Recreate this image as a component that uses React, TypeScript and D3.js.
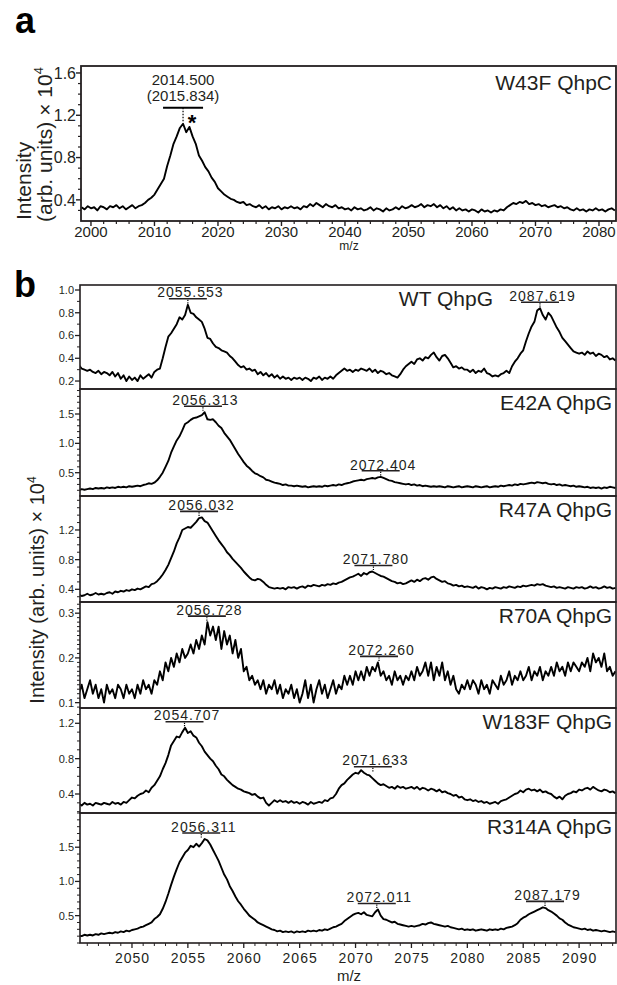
import React from 'react'
import * as d3 from 'd3'

// ---- panel a: W43F QhpC, sampled every 0.5 m/z from 1998.5 ----
const aStart = 1998.5
const aStep = 0.5
const aValues = [
  0.33, 0.31, 0.34, 0.32, 0.33, 0.30, 0.34, 0.33, 0.31, 0.34,
  0.33, 0.35, 0.32, 0.34, 0.31, 0.33, 0.35, 0.32, 0.34, 0.35,
  0.37, 0.40, 0.42, 0.45, 0.50, 0.55, 0.60, 0.72, 0.82, 0.93,
  1.00, 1.08, 1.12, 1.04, 1.09, 1.00, 0.93, 0.82, 0.77, 0.71,
  0.67, 0.61, 0.57, 0.51, 0.48, 0.45, 0.43, 0.41, 0.40, 0.38,
  0.37, 0.38, 0.35, 0.36, 0.34, 0.33, 0.35, 0.32, 0.34, 0.31,
  0.33, 0.32, 0.34, 0.31, 0.33, 0.32, 0.34, 0.32, 0.33, 0.31,
  0.34, 0.33, 0.36, 0.34, 0.37, 0.35, 0.33, 0.36, 0.34, 0.33,
  0.35, 0.32, 0.33, 0.31, 0.32, 0.30, 0.33, 0.31, 0.32, 0.30,
  0.31, 0.33, 0.30, 0.32, 0.31, 0.29, 0.32, 0.30, 0.31, 0.33,
  0.31, 0.34, 0.32, 0.33, 0.35, 0.33, 0.34, 0.36, 0.33, 0.35,
  0.34, 0.36, 0.33, 0.35, 0.32, 0.34, 0.31, 0.33, 0.30, 0.32,
  0.30, 0.31, 0.29, 0.31, 0.30, 0.28, 0.31, 0.29, 0.30, 0.28,
  0.30, 0.29, 0.31, 0.30, 0.33, 0.35, 0.37, 0.36, 0.38, 0.37,
  0.39, 0.36, 0.37, 0.35, 0.36, 0.34, 0.35, 0.33, 0.34, 0.35,
  0.33, 0.34, 0.32, 0.33, 0.31, 0.30, 0.32, 0.30, 0.31, 0.29,
  0.31, 0.30, 0.32, 0.30, 0.31, 0.29, 0.31, 0.32, 0.30
]
const aPeak = { at: 2014.5, label: '2014.500', sub: '(2015.834)' }
const aXTicks = [2000, 2010, 2020, 2030, 2040, 2050, 2060, 2070, 2080]
const aYTicks = [0.4, 0.8, 1.2, 1.6]

// ---- panel b: six QhpG variants, sampled every 0.25 m/z from 2045.25 ----
const bStart = 2045.25
const bStep = 0.25

const wtValues = [
  0.34, 0.31, 0.30, 0.29, 0.30, 0.28, 0.27, 0.29, 0.26, 0.28, 0.27, 0.25, 0.28, 0.24, 0.27, 0.22, 0.25, 0.20, 0.24, 0.21,
  0.23, 0.20, 0.25, 0.22, 0.24, 0.26, 0.23, 0.28, 0.30, 0.31, 0.40, 0.50, 0.59, 0.62, 0.66, 0.70, 0.76, 0.74, 0.78, 0.87,
  0.80, 0.79, 0.76, 0.74, 0.72, 0.66, 0.58, 0.57, 0.53, 0.50, 0.49, 0.47, 0.46, 0.45, 0.42, 0.40, 0.37, 0.34, 0.32, 0.33,
  0.30, 0.31, 0.29, 0.30, 0.26, 0.28, 0.25, 0.27, 0.24, 0.26, 0.23, 0.25, 0.22, 0.24, 0.22, 0.23, 0.21, 0.23, 0.22, 0.23,
  0.21, 0.23, 0.22, 0.20, 0.23, 0.22, 0.24, 0.21, 0.23, 0.22, 0.24, 0.22, 0.25, 0.27, 0.29, 0.31, 0.29, 0.30, 0.28, 0.30,
  0.29, 0.31, 0.30, 0.29, 0.31, 0.28, 0.30, 0.27, 0.29, 0.28, 0.26, 0.27, 0.25, 0.24, 0.23, 0.26, 0.30, 0.33, 0.35, 0.37,
  0.35, 0.39, 0.40, 0.38, 0.41, 0.40, 0.43, 0.45, 0.41, 0.38, 0.42, 0.43, 0.40, 0.36, 0.32, 0.33, 0.31, 0.32, 0.30, 0.30,
  0.28, 0.30, 0.27, 0.29, 0.28, 0.31, 0.27, 0.26, 0.24, 0.25, 0.24, 0.26, 0.27, 0.29, 0.27, 0.33, 0.37, 0.40, 0.44, 0.47,
  0.55, 0.62, 0.68, 0.72, 0.82, 0.84, 0.78, 0.74, 0.80, 0.77, 0.72, 0.67, 0.63, 0.58, 0.55, 0.52, 0.49, 0.46, 0.45, 0.44,
  0.45, 0.43, 0.46, 0.44, 0.45, 0.42, 0.44, 0.43, 0.41, 0.42, 0.39, 0.40, 0.38
]
const e42aValues = [
  0.20, 0.22, 0.21, 0.22, 0.23, 0.22, 0.24, 0.23, 0.24, 0.23, 0.25, 0.24, 0.25, 0.24, 0.26, 0.25, 0.26, 0.25, 0.27, 0.26,
  0.27, 0.28, 0.27, 0.29, 0.30, 0.32, 0.31, 0.33, 0.37, 0.43, 0.50, 0.60, 0.70, 0.84, 0.95, 1.05, 1.12, 1.22, 1.33, 1.36,
  1.40, 1.43, 1.44, 1.46, 1.48, 1.53, 1.41, 1.40, 1.41, 1.36, 1.30, 1.26, 1.18, 1.12, 1.06, 0.98, 0.90, 0.82, 0.75, 0.68,
  0.62, 0.58, 0.53, 0.49, 0.47, 0.44, 0.42, 0.38, 0.37, 0.35, 0.33, 0.32, 0.31, 0.29, 0.30, 0.28, 0.28, 0.27, 0.28, 0.27,
  0.26, 0.27, 0.25, 0.26, 0.27, 0.26, 0.27, 0.26, 0.28, 0.27, 0.28, 0.29, 0.28, 0.30, 0.29, 0.31, 0.32, 0.33, 0.35, 0.36,
  0.37, 0.38, 0.37, 0.39, 0.40, 0.41, 0.40, 0.42, 0.43, 0.41, 0.39, 0.37, 0.36, 0.34, 0.33, 0.32, 0.31, 0.30, 0.31, 0.29,
  0.30, 0.28, 0.29, 0.27, 0.28, 0.27, 0.26, 0.27, 0.26, 0.27, 0.26, 0.25, 0.27, 0.26, 0.25, 0.26, 0.27, 0.25, 0.26, 0.27,
  0.26, 0.25, 0.27, 0.26, 0.25, 0.26, 0.27, 0.25, 0.26, 0.27, 0.26, 0.28, 0.27, 0.28, 0.29, 0.28, 0.30, 0.29, 0.31, 0.30,
  0.31, 0.32, 0.33, 0.32, 0.34, 0.33, 0.32, 0.33, 0.31, 0.30, 0.31, 0.29, 0.30, 0.28, 0.29, 0.28, 0.27, 0.28, 0.26, 0.27,
  0.26, 0.25, 0.26, 0.24, 0.25, 0.24, 0.25, 0.23, 0.25, 0.24, 0.26, 0.25, 0.24
]
const r47aValues = [
  0.33, 0.31, 0.32, 0.34, 0.32, 0.33, 0.35, 0.33, 0.34, 0.33, 0.35, 0.36, 0.34, 0.37, 0.36, 0.38, 0.37, 0.39, 0.38, 0.40,
  0.39, 0.41, 0.40, 0.42, 0.44, 0.43, 0.47, 0.48, 0.51, 0.55, 0.60, 0.66, 0.73, 0.82, 0.91, 1.02, 1.10, 1.20, 1.22, 1.24,
  1.23, 1.27, 1.31, 1.36, 1.37, 1.32, 1.30, 1.24, 1.18, 1.12, 1.06, 1.01, 0.96, 0.90, 0.86, 0.81, 0.77, 0.73, 0.69, 0.64,
  0.60, 0.56, 0.53, 0.52, 0.54, 0.53, 0.50, 0.46, 0.43, 0.42, 0.41, 0.42, 0.41, 0.42, 0.40, 0.43, 0.42, 0.43, 0.41, 0.43,
  0.44, 0.42, 0.45, 0.44, 0.46, 0.45, 0.44, 0.46, 0.45, 0.47, 0.46, 0.48, 0.47, 0.49, 0.50, 0.52, 0.54, 0.56, 0.57, 0.59,
  0.61, 0.58, 0.62, 0.60, 0.63, 0.64, 0.62, 0.60, 0.58, 0.57, 0.55, 0.53, 0.51, 0.50, 0.48, 0.49, 0.47, 0.48, 0.50, 0.52,
  0.50, 0.53, 0.51, 0.54, 0.55, 0.53, 0.56, 0.57, 0.54, 0.52, 0.50, 0.51, 0.48, 0.47, 0.45, 0.46, 0.44, 0.45, 0.43, 0.44,
  0.43, 0.42, 0.44, 0.41, 0.43, 0.42, 0.40, 0.42, 0.41, 0.43, 0.42, 0.41, 0.43, 0.42, 0.44, 0.43, 0.42, 0.44, 0.43, 0.45,
  0.44, 0.45, 0.46, 0.45, 0.47, 0.46, 0.47, 0.45, 0.44, 0.43, 0.44, 0.42, 0.43, 0.42, 0.41, 0.43, 0.42, 0.41, 0.43, 0.42,
  0.43, 0.41, 0.42, 0.44, 0.42, 0.43, 0.41, 0.42, 0.44, 0.42, 0.43, 0.41, 0.42
]
const r70aValues = [
  0.12, 0.14, 0.11, 0.13, 0.15, 0.12, 0.14, 0.11, 0.13, 0.10, 0.14, 0.12, 0.13, 0.11, 0.14, 0.13, 0.11, 0.14, 0.12, 0.13,
  0.11, 0.14, 0.12, 0.15, 0.13, 0.14, 0.12, 0.15, 0.14, 0.17, 0.15, 0.19, 0.17, 0.20, 0.18, 0.21, 0.19, 0.22, 0.20, 0.21,
  0.23, 0.21, 0.24, 0.22, 0.25, 0.23, 0.28, 0.25, 0.27, 0.24, 0.27, 0.22, 0.26, 0.23, 0.25, 0.21, 0.24, 0.20, 0.22, 0.17,
  0.18, 0.15, 0.16, 0.14, 0.15, 0.13, 0.15, 0.12, 0.14, 0.13, 0.15, 0.12, 0.14, 0.11, 0.13, 0.12, 0.14, 0.11, 0.13, 0.10,
  0.12, 0.15, 0.11, 0.14, 0.10, 0.13, 0.15, 0.12, 0.14, 0.11, 0.13, 0.15, 0.12, 0.14, 0.13, 0.16, 0.14, 0.16, 0.14, 0.17,
  0.15, 0.17, 0.15, 0.18, 0.16, 0.18, 0.17, 0.19, 0.16, 0.17, 0.15, 0.16, 0.14, 0.17, 0.15, 0.16, 0.14, 0.16, 0.15, 0.17,
  0.15, 0.18, 0.16, 0.17, 0.19, 0.16, 0.19, 0.15, 0.18, 0.16, 0.19, 0.15, 0.17, 0.14, 0.16, 0.13, 0.12, 0.14, 0.13, 0.15,
  0.13, 0.15, 0.14, 0.12, 0.15, 0.13, 0.14, 0.12, 0.15, 0.14, 0.13, 0.16, 0.14, 0.15, 0.17, 0.14, 0.16, 0.15, 0.17, 0.15,
  0.16, 0.18, 0.15, 0.17, 0.16, 0.18, 0.15, 0.17, 0.16, 0.18, 0.16, 0.19, 0.17, 0.18, 0.16, 0.19, 0.17, 0.19, 0.18, 0.17,
  0.19, 0.18, 0.20, 0.17, 0.21, 0.19, 0.20, 0.18, 0.21, 0.17, 0.18, 0.16, 0.17
]
const w183fValues = [
  0.29, 0.27, 0.30, 0.28, 0.29, 0.27, 0.30, 0.29, 0.28, 0.30, 0.29, 0.28, 0.31, 0.29, 0.30, 0.28, 0.31, 0.30, 0.33, 0.36,
  0.35, 0.38, 0.40, 0.41, 0.44, 0.42, 0.47, 0.50, 0.55, 0.60, 0.68, 0.75, 0.84, 0.95, 1.00, 1.05, 1.04, 1.10, 1.15, 1.09,
  1.11, 1.06, 1.04, 0.98, 0.94, 0.88, 0.84, 0.80, 0.77, 0.72, 0.68, 0.62, 0.60, 0.56, 0.53, 0.50, 0.48, 0.46, 0.45, 0.43,
  0.42, 0.41, 0.39, 0.40, 0.37, 0.35, 0.36, 0.30, 0.27, 0.30, 0.33, 0.31, 0.33, 0.31, 0.32, 0.30, 0.32, 0.30, 0.31, 0.29,
  0.31, 0.30, 0.28, 0.31, 0.29, 0.30, 0.31, 0.30, 0.33, 0.32, 0.35, 0.36, 0.40, 0.46, 0.50, 0.52, 0.56, 0.59, 0.62, 0.64,
  0.63, 0.67, 0.64, 0.62, 0.61, 0.58, 0.55, 0.52, 0.50, 0.51, 0.49, 0.47, 0.48, 0.46, 0.49, 0.47, 0.48, 0.46, 0.47, 0.48,
  0.46, 0.48, 0.45, 0.47, 0.46, 0.44, 0.46, 0.45, 0.43, 0.45, 0.42, 0.43, 0.41, 0.40, 0.38, 0.39, 0.36, 0.37, 0.34, 0.33,
  0.34, 0.32, 0.33, 0.31, 0.32, 0.30, 0.31, 0.29, 0.30, 0.31, 0.29, 0.32, 0.33, 0.34, 0.36, 0.38, 0.40, 0.41, 0.44, 0.42,
  0.45, 0.46, 0.44, 0.45, 0.43, 0.45, 0.42, 0.43, 0.41, 0.40, 0.37, 0.35, 0.37, 0.34, 0.38, 0.40, 0.41, 0.43, 0.42, 0.45,
  0.44, 0.46, 0.47, 0.45, 0.48, 0.46, 0.44, 0.43, 0.45, 0.44, 0.42, 0.43, 0.41
]
const r314aValues = [
  0.21, 0.20, 0.22, 0.21, 0.22, 0.21, 0.23, 0.22, 0.24, 0.23, 0.24, 0.25, 0.24, 0.26, 0.25, 0.27, 0.26, 0.28, 0.27, 0.29,
  0.30, 0.31, 0.33, 0.34, 0.36, 0.38, 0.40, 0.45, 0.48, 0.52, 0.60, 0.70, 0.82, 0.95, 1.07, 1.18, 1.28, 1.35, 1.42, 1.46,
  1.52, 1.50, 1.55, 1.51, 1.56, 1.62, 1.60, 1.54, 1.46, 1.38, 1.30, 1.20, 1.10, 1.03, 0.93, 0.86, 0.78, 0.71, 0.66, 0.60,
  0.55, 0.50, 0.47, 0.44, 0.40, 0.38, 0.36, 0.34, 0.32, 0.30, 0.29, 0.27, 0.28, 0.26, 0.27, 0.26, 0.27, 0.25, 0.27, 0.26,
  0.27, 0.26, 0.28, 0.27, 0.28, 0.27, 0.29, 0.28, 0.30, 0.29, 0.31, 0.33, 0.34, 0.36, 0.38, 0.42, 0.45, 0.48, 0.51, 0.53,
  0.54, 0.52, 0.55, 0.51, 0.50, 0.49, 0.55, 0.59, 0.50, 0.45, 0.44, 0.42, 0.40, 0.41, 0.38, 0.37, 0.36, 0.35, 0.34, 0.35,
  0.34, 0.35, 0.36, 0.38, 0.37, 0.39, 0.40, 0.38, 0.37, 0.36, 0.35, 0.34, 0.35, 0.33, 0.32, 0.31, 0.30, 0.31, 0.29, 0.30,
  0.29, 0.30, 0.28, 0.29, 0.30, 0.29, 0.28, 0.30, 0.29, 0.30, 0.29, 0.31, 0.30, 0.32, 0.33, 0.34, 0.36, 0.39, 0.44, 0.47,
  0.49, 0.52, 0.54, 0.56, 0.58, 0.60, 0.62, 0.61, 0.58, 0.56, 0.53, 0.50, 0.46, 0.44, 0.40, 0.37, 0.35, 0.33, 0.32, 0.31,
  0.30, 0.31, 0.29, 0.30, 0.28, 0.29, 0.28, 0.27, 0.28, 0.27, 0.26, 0.27, 0.26
]

const bNames = ['WT QhpG', 'E42A QhpG', 'R47A QhpG', 'R70A QhpG', 'W183F QhpG', 'R314A QhpG']
const bSeries = [wtValues, e42aValues, r47aValues, r70aValues, w183fValues, r314aValues]
const bDomains = [[0.13, 1.044], [0.103, 1.926], [0.229, 1.658], [0.088, 0.325], [0.185, 1.373], [0.1, 2.0]]
const bMajorTicks = [
  [0.2, 0.4, 0.6, 0.8, 1.0],
  [0.5, 1.0, 1.5],
  [0.4, 0.8, 1.2],
  [0.1, 0.2, 0.3],
  [0.4, 0.8, 1.2],
  [0.5, 1.0, 1.5]
]
const bMinorSteps = [0.1, 0.1, 0.1, 0.01, 0.1, 0.1]
const bPeaks = [
  [{ at: 2055.0, label: '2055.553' }, { at: 2086.5, label: '2087.619' }],
  [{ at: 2056.35, label: '2056.313' }, { at: 2072.25, label: '2072.404' }],
  [{ at: 2056.0, label: '2056.032' }, { at: 2071.6, label: '2071.780' }],
  [{ at: 2056.7, label: '2056.728' }, { at: 2072.1, label: '2072.260' }],
  [{ at: 2054.7, label: '2054.707' }, { at: 2071.55, label: '2071.633' }],
  [{ at: 2056.2, label: '2056.311' }, { at: 2071.9, label: '2072.011' }, { at: 2086.95, label: '2087.179' }]
]
const bXTicks = [2050, 2055, 2060, 2065, 2070, 2075, 2080, 2085, 2090]

// ---- layout ----
const W = 617
const H = 985
const FONT = 'Liberation Sans, Arial, Helvetica, sans-serif'
const INK = '#231f20'
const aBox = { left: 81, right: 616, top: 66, bottom: 221 }
const bLeft = 80
const bRight = 616
const bEdges = [285, 389, 496, 602, 708, 813, 943]
const bLabelRight = [493, 612, 612, 612, 612, 612]

function steps (lo: number, hi: number, step: number) {
  const out: number[] = []
  for (let i = Math.ceil(lo / step - 1e-6); i * step <= hi + 1e-9; i++) {
    out.push(+(i * step).toFixed(4))
  }
  return out
}

function peakValue (values: number[], start: number, step: number, at: number) {
  let best = 0
  values.forEach((v, i) => {
    const mz = start + i * step
    if (Math.abs(mz - at) <= 1 && v > best) best = v
  })
  return best
}

function PanelA () {
  const x = d3.scaleLinear().domain([1998.43, 2082.68]).range([aBox.left, aBox.right])
  const y = d3.scaleLinear().domain([0.2, 1.666]).range([aBox.bottom, aBox.top])
  const line = d3.line<number>()
    .x((d, i) => x(aStart + i * aStep))
    .y(d => y(d))
  const minorX = steps(1999, 2082.6, 2).filter(v => v % 10 !== 0)
  const minorY = steps(0.21, 1.66, 0.1).filter(v => !aYTicks.some(t => Math.abs(t - v) < 1e-6))
  const px = x(aPeak.at)
  const barY = y(peakValue(aValues, aStart, aStep, aPeak.at)) - 16

  return (
    <g>
      <defs>
        <clipPath id='clip-a'>
          <rect x={aBox.left} y={aBox.top} width={aBox.right - aBox.left} height={aBox.bottom - aBox.top} />
        </clipPath>
      </defs>
      <path d={line(aValues) || ''} fill='none' stroke='#000' strokeWidth={1.9} strokeLinejoin='round' clipPath='url(#clip-a)' />
      <rect x={aBox.left} y={aBox.top} width={aBox.right - aBox.left} height={aBox.bottom - aBox.top}
        fill='none' stroke={INK} strokeWidth={1.8} />
      {aXTicks.map(t => (
        <g key={'ax' + t}>
          <line x1={x(t)} x2={x(t)} y1={aBox.bottom} y2={aBox.bottom + 5} stroke={INK} strokeWidth={1.4} />
          <text x={x(t)} y={aBox.bottom + 16} textAnchor='middle' fontSize={15} fill={INK}>{t}</text>
        </g>
      ))}
      {minorX.map(t => (
        <line key={'amx' + t} x1={x(t)} x2={x(t)} y1={aBox.bottom} y2={aBox.bottom + 3} stroke={INK} strokeWidth={1.2} />
      ))}
      {aYTicks.map(t => (
        <g key={'ay' + t}>
          <line x1={aBox.left - 5} x2={aBox.left} y1={y(t)} y2={y(t)} stroke={INK} strokeWidth={1.4} />
          <text x={aBox.left - 5} y={y(t)} dy='0.36em' textAnchor='end' fontSize={16} fill={INK}>{t.toFixed(1)}</text>
        </g>
      ))}
      {minorY.map(t => (
        <line key={'amy' + t} x1={aBox.left - 3} x2={aBox.left} y1={y(t)} y2={y(t)} stroke={INK} strokeWidth={1.2} />
      ))}
      <text x={349} y={250} textAnchor='middle' fontSize={12} fill={INK}>m/z</text>
      <text x={612} y={90} textAnchor='end' fontSize={21} fill={INK}>W43F QhpC</text>

      {/* peak annotation */}
      <text x={px} y={barY - 23} textAnchor='middle' fontSize={15} fill={INK}>{aPeak.label}</text>
      <text x={px} y={barY - 7} textAnchor='middle' fontSize={15} fill={INK}>{aPeak.sub}</text>
      <line x1={px - 20} x2={px + 20} y1={barY} y2={barY} stroke='#000' strokeWidth={1.8} />
      <line x1={px} x2={px} y1={barY} y2={y(peakValue(aValues, aStart, aStep, aPeak.at)) - 1}
        stroke='#000' strokeWidth={1.2} strokeDasharray='1.5,1.5' />
      <text x={px + 9} y={barY + 22} textAnchor='middle' fontSize={22} fontWeight='bold' fill='#000'>*</text>

      <g transform={`translate(31,${aBox.bottom - 1}) rotate(-90)`}>
        <text fontSize={21} fill={INK}>Intensity</text>
      </g>
      <g transform={`translate(52,${aBox.bottom + 1}) rotate(-90)`}>
        <text fontSize={21} fill={INK}>
          (arb. units) × 10<tspan fontSize={13} dy={-9}>4</tspan>
        </text>
      </g>
    </g>
  )
}

function PanelB ({ index }: { index: number }) {
  const top = bEdges[index]
  const bottom = bEdges[index + 1]
  const values = bSeries[index]
  const x = d3.scaleLinear().domain([2045.35, 2093.3]).range([bLeft, bRight])
  const y = d3.scaleLinear().domain(bDomains[index]).range([bottom, top])
  const line = d3.line<number>()
    .x((d, i) => x(bStart + i * bStep))
    .y(d => y(d))
  const majors = bMajorTicks[index]
  const dom = bDomains[index]
  const minors = steps(dom[0], dom[1], bMinorSteps[index])
    .filter(v => !majors.some(t => Math.abs(t - v) < 1e-6))
  const clipId = 'clip-b' + index

  return (
    <g>
      <defs>
        <clipPath id={clipId}>
          <rect x={bLeft} y={top} width={bRight - bLeft} height={bottom - top} />
        </clipPath>
      </defs>
      <path d={line(values) || ''} fill='none' stroke='#000' strokeWidth={1.9} strokeLinejoin='round' clipPath={`url(#${clipId})`} />
      <rect x={bLeft} y={top} width={bRight - bLeft} height={bottom - top} fill='none' stroke={INK} strokeWidth={1.6} />
      {majors.map(t => (
        <g key={'by' + t}>
          <line x1={bLeft - 5} x2={bLeft} y1={y(t)} y2={y(t)} stroke={INK} strokeWidth={1.3} />
          <text x={bLeft - 6} y={y(t)} dy='0.36em' textAnchor='end' fontSize={11} fill={INK}>{t.toFixed(1)}</text>
        </g>
      ))}
      {minors.map(t => (
        <line key={'bmy' + t} x1={bLeft - 3} x2={bLeft} y1={y(t)} y2={y(t)} stroke={INK} strokeWidth={1} />
      ))}
      <text x={bLabelRight[index]} y={top + 21} textAnchor='end' fontSize={21} fill={INK}>{bNames[index]}</text>
      {bPeaks[index].map(p => {
        const px = x(p.at)
        const py = y(peakValue(values, bStart, bStep, p.at))
        const barY = py - 6
        return (
          <g key={p.label}>
            <text x={px + 2.5} y={barY - 1.3} textAnchor='middle' fontSize={14} letterSpacing={1} fill={INK}>{p.label}</text>
            <line x1={px - 19} x2={px + 19} y1={barY} y2={barY} stroke={INK} strokeWidth={1.6} />
            <line x1={px} x2={px} y1={barY + 1} y2={py - 1} stroke='#000' strokeWidth={1.2} strokeDasharray='1.2,1.2' />
          </g>
        )
      })}
    </g>
  )
}

function AxisB () {
  const x = d3.scaleLinear().domain([2045.35, 2093.3]).range([bLeft, bRight])
  const base = bEdges[bEdges.length - 1]
  const minor = steps(2046, 2093, 1).filter(v => v % 5 !== 0)
  return (
    <g>
      {bXTicks.map(t => (
        <g key={'bx' + t}>
          <line x1={x(t)} x2={x(t)} y1={base} y2={base + 5} stroke={INK} strokeWidth={1.3} />
          <text x={x(t) + 0.5} y={base + 20} textAnchor='middle' fontSize={14} letterSpacing={1} fill={INK}>{t}</text>
        </g>
      ))}
      {minor.map(t => (
        <line key={'bmx' + t} x1={x(t)} x2={x(t)} y1={base} y2={base + 3} stroke={INK} strokeWidth={1} />
      ))}
      <text x={349} y={base + 38} textAnchor='middle' fontSize={15} fill={INK}>m/z</text>
      <g transform={`translate(44,590) rotate(-90)`}>
        <text textAnchor='middle' fontSize={20} fill={INK}>
          Intensity (arb. units) × 10<tspan fontSize={12} dy={-8}>4</tspan>
        </text>
      </g>
    </g>
  )
}

export default function App () {
  return (
    <svg width={W} height={H} fontFamily={FONT}
      style={{ position: 'absolute', left: 0, top: 0, background: '#fff' }}>
      <text x={15} y={33} fontSize={36} fontWeight='bold' fill='#000'>a</text>
      <text x={14} y={297} fontSize={36} fontWeight='bold' fill='#000'>b</text>
      <PanelA />
      {bNames.map((n, i) => <PanelB key={n} index={i} />)}
      <AxisB />
    </svg>
  )
}
